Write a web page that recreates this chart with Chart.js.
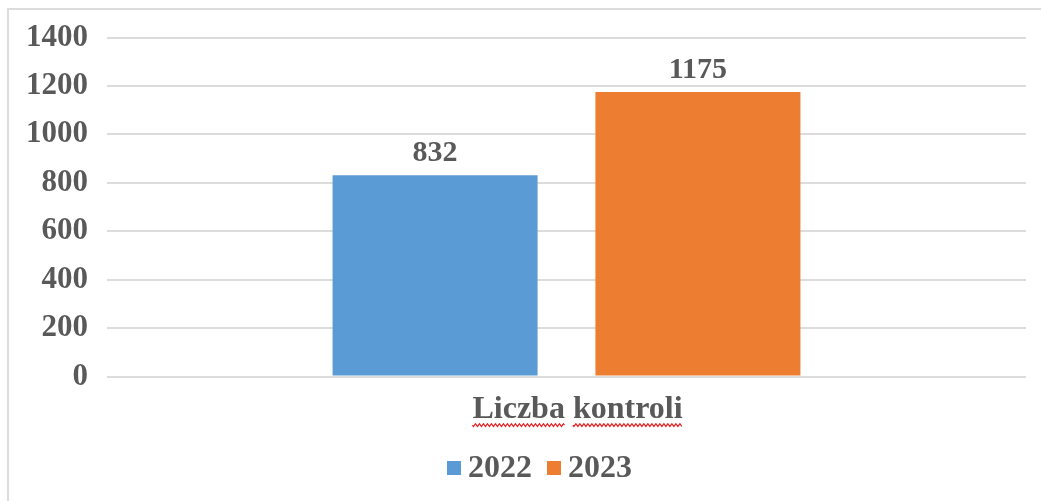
<!DOCTYPE html>
<html><head><meta charset="utf-8">
<script src="https://cdn.jsdelivr.net/npm/chart.js@4"></script>
<style>
html,body{margin:0;padding:0;width:1041px;height:501px;overflow:hidden;background:#fff}
#frame{position:absolute;left:7px;top:8px;width:1100px;height:600px;border:2px solid #dcdcdc;box-sizing:border-box}
#wrap{position:absolute;left:0;top:0;width:1041px;height:501px}
</style></head><body>
<div id="frame"></div>
<div id="wrap"><canvas id="c"></canvas></div>
<script>
const categories = ['Liczba kontroli'];
const seriesNames = ['2022', '2023'];
const values2022 = [832];
const values2023 = [1175];
const yTicks = [0, 200, 400, 600, 800, 1000, 1200, 1400];
const seriesColors = ['#5B9BD5', '#ED7D31'];

const FONT = '"Liberation Serif", "Times New Roman", serif';
const TXT = '#595959';
const X_LABEL_SHIFT = 11;

const valueLabels = {
  id: 'valueLabels',
  afterDatasetsDraw(chart) {
    const ctx = chart.ctx;
    ctx.save();
    ctx.font = 'bold 30px ' + FONT;
    ctx.fillStyle = TXT;
    ctx.textAlign = 'center';
    ctx.textBaseline = 'alphabetic';
    chart.data.datasets.forEach((ds, i) => {
      chart.getDatasetMeta(i).data.forEach((bar, j) => {
        ctx.fillText(String(ds.data[j]), bar.x, bar.y - 14);
      });
    });
    ctx.restore();
  }
};

const spellWave = {
  id: 'spellWave',
  afterDraw(chart) {
    const ctx = chart.ctx;
    const xs = chart.scales.x;
    ctx.save();
    ctx.font = 'bold 32px ' + FONT;
    const label = categories[0];
    const cx = xs.getPixelForTick(0) + X_LABEL_SHIFT;
    const total = ctx.measureText(label).width;
    const left = cx - total / 2;
    const y = chart.chartArea.bottom + 48.5;
    ctx.strokeStyle = '#e82020';
    ctx.lineWidth = 1.2;
    let off = 0;
    label.split(' ').forEach((w) => {
      const start = left + off;
      const width = ctx.measureText(w).width;
      ctx.beginPath();
      for (let x = 0; x <= width; x += 1) {
        const yy = y + Math.sin(x * Math.PI / 2) * 1.4;
        if (x === 0) ctx.moveTo(start + x, yy); else ctx.lineTo(start + x, yy);
      }
      ctx.stroke();
      off += ctx.measureText(w + ' ').width;
    });
    ctx.restore();
  }
};

const customLegend = {
  id: 'customLegend',
  afterDraw(chart) {
    const ctx = chart.ctx;
    ctx.save();
    ctx.font = 'bold 32px ' + FONT;
    const box = 14, gapText = 7, gapItems = 15;
    const items = chart.data.datasets.map(ds => ({ text: ds.label, color: ds.backgroundColor, w: ctx.measureText(ds.label).width }));
    const total = items.reduce((s, it) => s + box + gapText + it.w, 0) + gapItems * (items.length - 1);
    let x = chart.width / 2 + 19 - total / 2;
    const cy = chart.height - 33;
    ctx.textBaseline = 'middle';
    ctx.textAlign = 'left';
    items.forEach(it => {
      ctx.fillStyle = it.color;
      ctx.fillRect(x, cy - box / 2, box, box);
      x += box + gapText;
      ctx.fillStyle = TXT;
      ctx.fillText(it.text, x, cy + 1);
      x += it.w + gapItems;
    });
    ctx.restore();
  }
};

new Chart(document.getElementById('c'), {
  type: 'bar',
  data: {
    labels: categories,
    datasets: [
      { label: seriesNames[0], data: values2022, backgroundColor: seriesColors[0], categoryPercentage: 0.572, barPercentage: 0.78 },
      { label: seriesNames[1], data: values2023, backgroundColor: seriesColors[1], categoryPercentage: 0.572, barPercentage: 0.78 }
    ]
  },
  options: {
    responsive: true,
    maintainAspectRatio: false,
    animation: false,
    devicePixelRatio: 1,
    layout: { padding: { left: 7, right: 15, top: 21, bottom: 58 } },
    plugins: {
      legend: { display: false },
      tooltip: { enabled: false }
    },
    scales: {
      x: {
        grid: { display: false, drawTicks: false },
        border: { display: false },
        ticks: { color: TXT, padding: 14, labelOffset: X_LABEL_SHIFT, font: { family: FONT, size: 32, weight: 'bold' } }
      },
      y: {
        min: 0, max: 1400,
        afterBuildTicks(scale) { scale.ticks = yTicks.map(v => ({ value: v })); },
        grid: { color: '#dcdcdc', lineWidth: 2, drawTicks: false },
        border: { display: false },
        ticks: { color: TXT, padding: 19, font: { family: FONT, size: 31, weight: 'bold' }, callback: (v) => String(v) }
      }
    }
  },
  plugins: [valueLabels, spellWave, customLegend]
});
</script>
</body></html>
